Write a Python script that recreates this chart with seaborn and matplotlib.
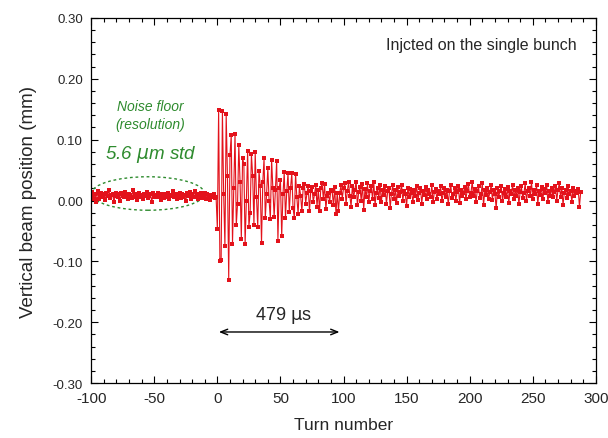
import numpy as np
import pandas as pd
import matplotlib.pyplot as plt
import seaborn as sns
from matplotlib.patches import Ellipse
import matplotlib.ticker as mticker

# beam position readings in micrometres, one per turn
# before injection (turns -100 .. -1)
pre_um = [8, 14, 3, 11, -2, 16, 2, 9, 13, 5, 10, 1, 12, 7, 18, 4, 9, 11, -3, 8,
          13, 6, 10, 0, 12, 8, 5, 14, 7, 2, 11, 9, 4, 17, 6, 10, 1, 8, 12, 5,
          9, 3, 11, 7, 14, 4, 8, 10, -2, 12, 6, 9, 5, 13, 7, 1, 10, 8, 4, 11,
          6, 12, 3, 9, 7, 15, 5, 10, 2, 8, 13, 4, 11, 6, 9, 0, 12, 7, 14, 3,
          10, 5, 16, 6, 11, 2, 9, 13, 4, 8, 12, 3, 10, 7, 1, 9, 6, 11, 4, 5]
# oscillation after injection (turns 0 .. 95)
kick_um = [-47, 149, -100, -98, 147, 10, -75, 142, 40, -130,
           75, 108, -71, 20, 110, -41, -5, 91, 30, -64,
           70, 60, -71, 0, 82, -43, -20, 76, 40, -40,
           79, 6, -43, 49, 24, -70, 30, 69, -29, 10,
           53, 0, -30, 67, 20, -27, 17, 65, -66, 20,
           34, -59, 10, 46, -29, 15, 45, -19, 20, 45, -13,
           -28, 44, 5, -22, 23, 8, -18, 20, 27, -5,
           12, 24, -18, 15, 22, -2, 10, 25, -10, 18,
           -18, 20, 29, 2, 27, -14, 8, 12, -3, 18,
           15, -8, 22, -22, 13]
# after the oscillation has died out (turns 96 .. 288)
tail_um = [-18, 12, 25, 3, 20, 28, -5, 15, 30, 8, -10, 24, 5, 18, 31, -8, 14, 22, 0, 27,
           -15, 19, 6, 28, -3, 16, 24, 2, 30, -7, 13, 21, 4, 26, -2, 17, 9, 23, -6, 15,
           20, -12, 11, 25, 3, 18, -4, 22, 7, 14, 26, 0, 16, 10, -9, 21, 5, 19, 12, -2,
           17, 8, 24, 1, 13, 20, -5, 15, 9, 22, 3, 18, 11, 6, 25, -3, 14, 19, 2, 16,
           10, 23, -1, 12, 21, 6, 17, -6, 15, 26, 4, 11, 20, 0, 14, 24, -4, 18, 8, 13,
           22, 2, 16, 27, 5, 12, 31, 7, 19, -2, 15, 23, 4, 10, 28, -8, 17, 9, 21, 3,
           14, 25, 1, 18, 11, -13, 20, 6, 16, 24, 0, 13, 19, 5, 22, -4, 15, 10, 26, 2,
           17, 8, 21, -6, 14, 23, 4, 12, 28, -1, 16, 20, 7, 30, 3, 18, 11, 25, -5, 15,
           9, 22, 2, 19, 13, 26, -3, 16, 8, 21, 5, 14, 24, 0, 17, 28, 6, 20, -7, 13,
           18, 4, 23, 10, 15, -2, 21, 7, 16, 12, 19, -10, 14]

position_um = pre_um + kick_um + tail_um
turns = np.arange(-100, -100 + len(position_um))
df = pd.DataFrame({"turn": turns, "pos": np.array(position_um) / 1000.0})

sns.set_style("ticks")
plt.rcParams["font.family"] = ["Liberation Sans", "DejaVu Sans"]
plt.rcParams["axes.unicode_minus"] = False  # plain hyphen like the original

fig = plt.figure(figsize=(6.08, 4.39), dpi=100)
ax = fig.add_axes([0.150, 0.125, 0.830, 0.832])

red = "#e3121b"
green = "#2e8b2e"
sns.lineplot(data=df, x="turn", y="pos", ax=ax, color=red, linewidth=0.8,
             marker="s", markersize=2.6, markeredgewidth=0)

ax.set_xlim(-100, 300)
ax.set_ylim(-0.30, 0.30)
ax.xaxis.set_major_locator(mticker.MultipleLocator(50))
ax.xaxis.set_minor_locator(mticker.MultipleLocator(10))
ax.yaxis.set_major_locator(mticker.MultipleLocator(0.10))
ax.yaxis.set_minor_locator(mticker.MultipleLocator(0.02))
ax.yaxis.set_major_formatter(mticker.FormatStrFormatter("%.2f"))
ax.tick_params(which="both", direction="in", top=True, right=True, color="black", width=0.8)
ax.tick_params(which="major", length=5)
ax.tick_params(which="minor", length=3)
ax.tick_params(axis="x", labelsize=11, pad=6)
ax.tick_params(axis="y", labelsize=9.5, pad=6)
for s in ax.spines.values():
    s.set_visible(True)
    s.set_color("black")
    s.set_linewidth(0.9)

ax.set_xlabel("Turn number", fontsize=12.5, labelpad=8)
ax.set_ylabel("Vertical beam position (mm)", fontsize=13.5, labelpad=11)

# annotations
ax.text(285, 0.257, "Injcted on the single bunch", fontsize=11.5, ha="right", va="center")
ax.text(-53, 0.155, "Noise floor", fontsize=10, style="italic", color=green, ha="center", va="center")
ax.text(-53, 0.126, "(resolution)", fontsize=10, style="italic", color=green, ha="center", va="center")
ax.text(-53, 0.077, "5.6 $\\mu$m std", fontsize=13.5, style="italic", color=green,
        ha="center", va="center")
ax.add_patch(Ellipse((-55, 0.0115), 89.5, 0.055, fill=False, ec=green,
                     ls=(0, (2, 2)), lw=1))

ax.annotate("", xy=(-1, -0.216), xytext=(99, -0.216),
            arrowprops=dict(arrowstyle="<->,head_length=0.5,head_width=0.2",
                            color="black", lw=1))
ax.text(52, -0.188, "479 $\\mathrm{\\mu}$s", fontsize=13, ha="center", va="center")

fig.savefig("out.png", dpi=100)
